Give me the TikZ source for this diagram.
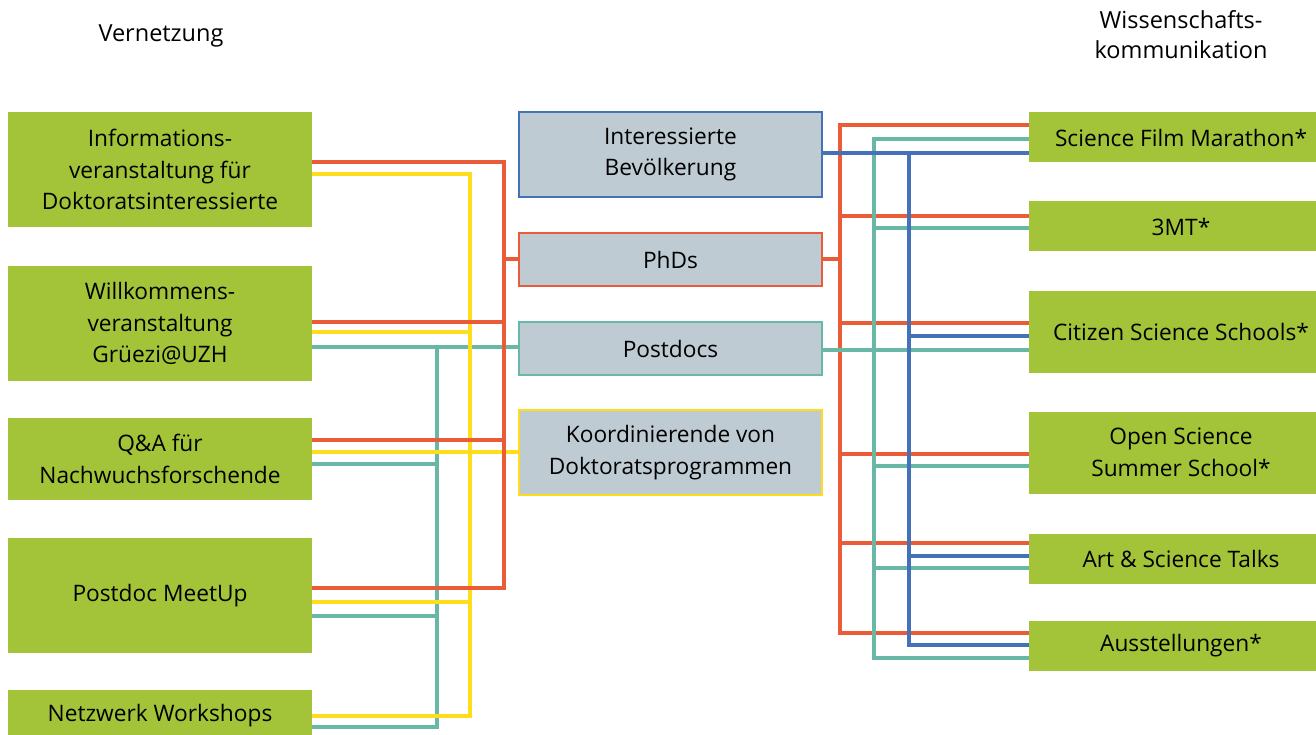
\documentclass[tikz,border=0pt]{standalone}
\usepackage{fontspec}
\setmainfont{Open Sans}
\definecolor{uzhgreen}{RGB}{163,196,56}
\definecolor{boxgray}{RGB}{190,203,211}
\definecolor{lnred}{RGB}{234,91,55}
\definecolor{lnyellow}{RGB}{255,221,26}
\definecolor{lnteal}{RGB}{105,183,167}
\definecolor{lnblue}{RGB}{68,114,184}
\tikzset{
  offer/.style={fill=uzhgreen, minimum width=304pt, inner sep=0pt, align=center,
    font=\fontsize{22.7}{31.5}\selectfont},
  group/.style={fill=boxgray, line width=2.8pt, minimum width=303pt, inner sep=0pt,
    align=center, font=\fontsize{22.7}{31.5}\selectfont},
  lred/.style={lnred, line width=3.2pt},
  lyel/.style={lnyellow, line width=3.2pt},
  lteal/.style={lnteal, line width=3.2pt},
  lblue/.style={lnblue, line width=3.2pt},
}
\begin{document}
\begin{tikzpicture}[x=1pt, y=-1pt]
                \useasboundingbox (0,0) rectangle (1316,735);
                \clip (0,0) rectangle (1316,735);
                % Titles
                \node[font=\fontsize{23.5}{30}\selectfont] (tvern) at (161,36) {Vernetzung};
                \node[font=\fontsize{23.5}{30}\selectfont, align=center] (twiss) at (1181,35) {Wissenschafts-\\kommunikation};
                % Left boxes
                \node[offer, minimum height=115pt] (info) at (160,169.5) {Informations-\\veranstaltung für\\Doktoratsinteressierte};
                \node[offer, minimum height=115pt] (willk) at (160,323.5) {Willkommens-\\veranstaltung\\Grüezi@UZH};
                \node[offer, minimum height=82pt] (qa) at (160,459) {Q\&A für\\Nachwuchsforschende};
                \node[offer, minimum height=115pt] (meetup) at (160,595.5) {Postdoc MeetUp};
                \node[offer, minimum height=52pt] (netz) at (160,716) {Netzwerk Workshops};
                % Target groups
                \node[group, draw=lnblue, minimum height=85pt] (pub) at (670.5,154.5) {Interessierte\\Bevölkerung};
                \node[group, draw=lnred, minimum height=53pt] (phd) at (670.5,259.5) {PhDs};
                \node[group, draw=lnteal, minimum height=53pt] (postdoc) at (670.5,348.5) {Postdocs};
                \node[group, draw=lnyellow, minimum height=85pt] (koord) at (670.5,452.5) {Koordinierende von\\Doktoratsprogrammen};
                % Right boxes
                \node[offer, minimum height=50pt] (film) at (1181,137.5) {Science Film Marathon*};
                \node[offer, minimum height=50pt] (tmt) at (1181,226.5) {3MT*};
                \node[offer, minimum height=82pt] (citizen) at (1181,332) {Citizen Science Schools*};
                \node[offer, minimum height=82pt] (open) at (1181,452.5) {Open Science\\Summer School*};
                \node[offer, minimum height=50pt] (art) at (1181,559) {Art \& Science Talks};
                \node[offer, minimum height=50pt] (ausst) at (1181,646) {Ausstellungen*};
                % Buses
                \coordinate (ltealbus) at (437,0);
                \coordinate (lyelbus) at (470,0);
                \coordinate (lredbus) at (504,0);
                \coordinate (rredbus) at (840,0);
                \coordinate (rtealbus) at (874,0);
                \coordinate (rbluebus) at (909,0);
                % Left side: teal
                \draw[lteal] (willk.east |- 0,347) -- (postdoc.west |- 0,347);
                \draw[lteal] (ltealbus |- 0,347) |- (netz.east |- 0,727);
                \foreach \n/\y in {qa/464, meetup/616}
                    \draw[lteal] (\n.east |- 0,\y) -- (ltealbus |- 0,\y);
                % Left side: yellow
                \draw[lyel] (info.east |- 0,174) -| (lyelbus |- 0,716) -- (netz.east |- 0,716);
                \draw[lyel] (qa.east |- 0,452) -- (koord.west |- 0,452);
                \foreach \n/\y in {willk/332, meetup/602}
                    \draw[lyel] (\n.east |- 0,\y) -- (lyelbus |- 0,\y);
                % Left side: red
                \draw[lred] (info.east |- 0,162) -| (lredbus |- 0,588) -- (meetup.east |- 0,588);
                \draw[lred] (lredbus |- 0,259) -- (phd.west |- 0,259);
                \foreach \n/\y in {willk/322, qa/440}
                    \draw[lred] (\n.east |- 0,\y) -- (lredbus |- 0,\y);
                % Right side: red
                \draw[lred] (phd.east |- 0,259) -- (rredbus |- 0,259);
                \draw[lred] (film.west |- 0,125) -| (rredbus |- 0,633) -- (ausst.west |- 0,633);
                \foreach \n/\y in {tmt/216, citizen/323, open/454, art/543}
                    \draw[lred] (rredbus |- 0,\y) -- (\n.west |- 0,\y);
                % Right side: teal
                \draw[lteal] (postdoc.east |- 0,350) -- (citizen.west |- 0,350);
                \draw[lteal] (film.west |- 0,139) -| (rtealbus |- 0,658) -- (ausst.west |- 0,658);
                \foreach \n/\y in {tmt/228, open/466, art/568}
                    \draw[lteal] (rtealbus |- 0,\y) -- (\n.west |- 0,\y);
                % Right side: blue
                \draw[lblue] (pub.east |- 0,153) -- (film.west |- 0,153);
                \draw[lblue] (rbluebus |- 0,153) |- (ausst.west |- 0,645);
                \foreach \n/\y in {citizen/336, art/556}
                    \draw[lblue] (rbluebus |- 0,\y) -- (\n.west |- 0,\y);
\end{tikzpicture}
\end{document}
